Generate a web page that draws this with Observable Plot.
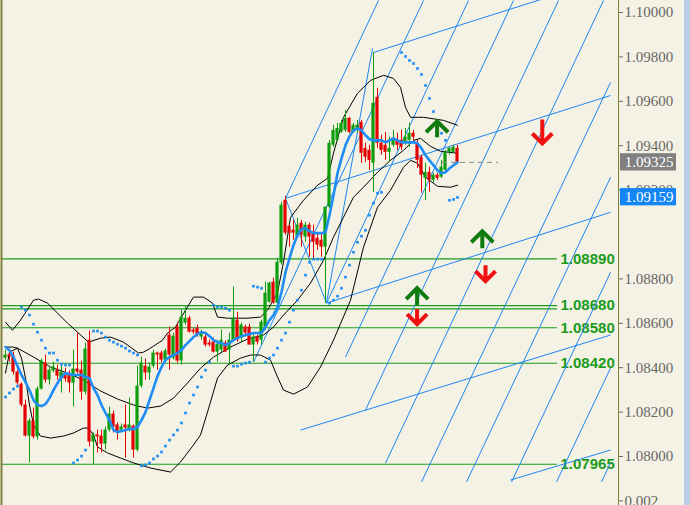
<!DOCTYPE html>
<html><head><meta charset="utf-8">
<script src="https://cdn.jsdelivr.net/npm/d3@7"></script>
<script src="https://cdn.jsdelivr.net/npm/@observablehq/plot@0.6"></script>
<style>
html,body{margin:0;padding:0;background:#f4f2e4;}
#wrap{position:relative;width:690px;height:505px;overflow:hidden;}
#strip{position:absolute;right:0;top:0;width:6px;height:505px;background:#bccde6;}
</style></head><body><div id="wrap"><div id="strip"></div></div>
<script>
// ---- candles (bar index 0..113) ----
const opens = [1.08443,1.08457,1.08452,1.08380,1.08326,1.08232,1.08092,1.08160,1.08088,1.08304,
1.08421,1.08344,1.08385,1.08389,1.08353,1.08376,1.08367,1.08331,1.08394,1.08389,
1.08290,1.08524,1.08065,1.08097,1.08092,1.08056,1.08119,1.08191,1.08142,1.08119,
1.08142,1.08119,1.08137,1.08029,1.08317,1.08407,1.08376,1.08407,1.08466,1.08466,
1.08434,1.08547,1.08443,1.08583,1.08430,1.08601,1.08623,1.08569,1.08578,1.08538,
1.08538,1.08511,1.08515,1.08470,1.08479,1.08511,1.08479,1.08524,1.08614,1.08533,
1.08583,1.08583,1.08502,1.08538,1.08524,1.08583,1.08695,1.08785,1.08691,1.08871,
1.09154,1.09037,1.09019,1.08988,1.09051,1.08988,1.09042,1.09010,1.08983,1.08974,
1.08943,1.09123,1.09402,1.09424,1.09460,1.09469,1.09523,1.09460,1.09469,1.09505,
1.09388,1.09379,1.09321,1.09618,1.09411,1.09402,1.09370,1.09402,1.09424,1.09424,
1.09411,1.09424,1.09456,1.09411,1.09348,1.09253,1.09280,1.09244,1.09267,1.09258,
1.09289,1.09370,1.09370,1.09388];
const highs = [1.08479,1.08466,1.08470,1.08389,1.08331,1.08254,1.08169,1.08218,1.08313,1.08439,
1.08457,1.08407,1.08425,1.08412,1.08412,1.08398,1.08385,1.08479,1.08556,1.08430,
1.08511,1.08565,1.08106,1.08119,1.08119,1.08133,1.08223,1.08205,1.08151,1.08146,
1.08232,1.08263,1.08142,1.08407,1.08448,1.08439,1.08421,1.08479,1.08470,1.08475,
1.08484,1.08583,1.08556,1.08601,1.08659,1.08673,1.08632,1.08578,1.08592,1.08569,
1.08556,1.08524,1.08533,1.08524,1.08569,1.08520,1.08556,1.08763,1.08650,1.08601,
1.08592,1.08596,1.08547,1.08547,1.08614,1.08785,1.08785,1.08803,1.08893,1.09145,
1.09172,1.09042,1.09064,1.09073,1.09064,1.09055,1.09051,1.09042,1.09006,1.09006,
1.09123,1.09424,1.09492,1.09501,1.09514,1.09559,1.09528,1.09501,1.09514,1.09514,
1.09411,1.09402,1.09820,1.09658,1.09447,1.09460,1.09438,1.09469,1.09456,1.09469,
1.09478,1.09501,1.09469,1.09424,1.09357,1.09321,1.09303,1.09276,1.09276,1.09334,
1.09379,1.09393,1.09402,1.09402];
const lows = [1.08434,1.08425,1.08367,1.08322,1.08223,1.08088,1.07971,1.08079,1.08074,1.08299,
1.08331,1.08322,1.08376,1.08344,1.08286,1.08335,1.08286,1.08223,1.08371,1.08254,
1.08277,1.08043,1.07962,1.08016,1.08016,1.08029,1.08110,1.08106,1.08074,1.08106,
1.07993,1.08110,1.07993,1.08020,1.08308,1.08344,1.08344,1.08398,1.08389,1.08421,
1.08425,1.08389,1.08434,1.08421,1.08412,1.08592,1.08556,1.08551,1.08538,1.08524,
1.08493,1.08493,1.08466,1.08425,1.08470,1.08470,1.08412,1.08515,1.08515,1.08515,
1.08538,1.08502,1.08425,1.08502,1.08502,1.08569,1.08691,1.08686,1.08682,1.08862,
1.08997,1.08943,1.08974,1.08983,1.08943,1.08965,1.08898,1.08884,1.08929,1.08898,
1.08691,1.09118,1.09393,1.09420,1.09456,1.09460,1.09456,1.09456,1.09456,1.09321,
1.09325,1.09289,1.09190,1.09388,1.09357,1.09334,1.09325,1.09393,1.09379,1.09379,
1.09402,1.09393,1.09424,1.09298,1.09186,1.09154,1.09190,1.09231,1.09244,1.09253,
1.09280,1.09357,1.09366,1.09321];
const closes = [1.08457,1.08448,1.08380,1.08331,1.08232,1.08092,1.08160,1.08088,1.08304,1.08430,
1.08344,1.08389,1.08403,1.08362,1.08380,1.08349,1.08331,1.08394,1.08380,1.08290,
1.08484,1.08065,1.08097,1.08088,1.08056,1.08119,1.08191,1.08133,1.08110,1.08133,
1.08128,1.08142,1.08029,1.08317,1.08421,1.08376,1.08403,1.08466,1.08457,1.08434,
1.08475,1.08457,1.08542,1.08430,1.08628,1.08623,1.08560,1.08560,1.08551,1.08560,
1.08502,1.08502,1.08470,1.08506,1.08524,1.08470,1.08524,1.08623,1.08524,1.08592,
1.08556,1.08502,1.08538,1.08515,1.08605,1.08736,1.08781,1.08691,1.08875,1.09132,
1.09006,1.09006,1.09006,1.09042,1.08997,1.09042,1.08988,1.08965,1.08952,1.08943,
1.09123,1.09411,1.09469,1.09478,1.09501,1.09523,1.09460,1.09492,1.09492,1.09366,
1.09348,1.09334,1.09591,1.09411,1.09379,1.09370,1.09388,1.09433,1.09402,1.09393,
1.09438,1.09456,1.09438,1.09334,1.09267,1.09280,1.09244,1.09267,1.09253,1.09303,
1.09370,1.09388,1.09393,1.09325];

// ---- moving average (thick blue) ----
const maValues = [1.08493,1.08479,1.08448,1.08407,1.08367,1.08335,1.08299,1.08254,1.08232,1.08227,
1.08236,1.08263,1.08299,1.08331,1.08358,1.08376,1.08371,1.08367,1.08367,1.08367,
1.08358,1.08353,1.08308,1.08277,1.08232,1.08196,1.08164,1.08119,1.08110,1.08115,
1.08119,1.08124,1.08124,1.08133,1.08164,1.08200,1.08254,1.08308,1.08362,1.08403,
1.08434,1.08448,1.08457,1.08466,1.08479,1.08502,1.08520,1.08538,1.08551,1.08560,
1.08556,1.08542,1.08524,1.08515,1.08511,1.08502,1.08511,1.08524,1.08533,1.08542,
1.08547,1.08551,1.08556,1.08556,1.08556,1.08583,1.08614,1.08637,1.08673,1.08740,
1.08830,1.08893,1.08952,1.08997,1.09024,1.09028,1.09015,1.09006,1.09006,1.09006,
1.09010,1.09087,1.09177,1.09276,1.09343,1.09402,1.09442,1.09469,1.09478,1.09469,
1.09447,1.09429,1.09424,1.09424,1.09424,1.09415,1.09424,1.09433,1.09424,1.09415,
1.09415,1.09415,1.09415,1.09411,1.09388,1.09357,1.09334,1.09312,1.09289,1.09276,
1.09280,1.09298,1.09312,1.09325];

// ---- Bollinger-style bands (knots: bar index, price) ----
const bandUpperIdx = [0,1.75,3.75,7,8.25,10.5,13,15.5,18,20.75,23.75,26.25,29.5,33.25,34.5,36.25,39.25,40.5,42.5,45,47,49.5,51.75,53,55.5,60.5,63.75,65.5,68,69.5,71.25,74.5,78,80.5,82,84.5,88,91.25,94.5,97,98.75,100,101.25,104.5,109.5,113];
const bandUpperVal = [1.08605,1.08569,1.08614,1.08704,1.08709,1.08691,1.08646,1.08601,1.08560,1.08515,1.08533,1.08538,1.08515,1.08466,1.08470,1.08488,1.08524,1.08556,1.08583,1.08659,1.08718,1.08718,1.08691,1.08628,1.08623,1.08623,1.08628,1.08659,1.08738,1.08875,1.09077,1.09154,1.09222,1.09253,1.09366,1.09528,1.09636,1.09694,1.09717,1.09703,1.09663,1.09572,1.09528,1.09528,1.09514,1.09492];
const bandMidIdx = [0,1,3,7,11.25,15.5,19.5,23.75,28,32,35.5,38.75,42,45.5,48.75,52,56.25,60.5,64.5,67,69.5,73,76.25,79.5,82,84.5,87,89.5,93,96.25,99.5,102,103.75,106.25,108.75,113];
const bandMidVal = [1.08376,1.08470,1.08488,1.08448,1.08403,1.08376,1.08344,1.08295,1.08259,1.08232,1.08218,1.08227,1.08263,1.08331,1.08398,1.08448,1.08493,1.08529,1.08547,1.08583,1.08637,1.08704,1.08781,1.08884,1.08988,1.09078,1.09168,1.09213,1.09280,1.09334,1.09379,1.09424,1.09433,1.09397,1.09375,1.09366];
const bandLowIdx = [0,1.75,3,4,5,6,7,8.75,11.25,14.5,17,19.5,20.75,22,23,25.5,28.75,32,36.25,41.25,43.75,47,48.75,50.5,53,55.5,58.75,61.25,63.75,66.25,68,69.5,72,75.5,78.75,82,86.25,89.5,93,96.25,99.5,101.25,103,105,108,111.25,113];
const bandLowVal = [1.08493,1.08493,1.08488,1.08443,1.08353,1.08232,1.08142,1.08092,1.08083,1.08092,1.08106,1.08128,1.08128,1.08097,1.08043,1.08016,1.07993,1.07971,1.07948,1.07930,1.07975,1.08052,1.08097,1.08200,1.08353,1.08412,1.08443,1.08457,1.08457,1.08434,1.08358,1.08299,1.08281,1.08313,1.08403,1.08524,1.08704,1.08943,1.09123,1.09199,1.09303,1.09334,1.09321,1.09258,1.09217,1.09213,1.09222];

// ---- parabolic SAR dots ----
const sarIndex = [0,1,2,3,4,5,6,7,8,9,10,11,12,13,14,15,16,17,18,19,20,
22,23,24,25,26,27,28,29,30,31,32,33,
34,35,36,37,38,39,40,41,42,43,44,45,46,47,48,49,50,51,
52,53,54,55,56,57,58,59,60,61,62,63,64,
65,66,67,68,69,70,71,72,73,74,75,76,77,78,79,
81,82,83,84,85,86,87,88,89,90,91,92,93,94,
99,100,101,102,103,104,105,106,107,108,109,110,111,112,113];
const sarValue = [1.08268,1.08286,1.08304,1.08317,1.08673,1.08659,1.08637,1.08596,1.08560,1.08524,1.08488,1.08466,1.08466,1.08434,1.08416,1.08412,1.08412,1.07971,1.07984,1.08002,1.08029,
1.08565,1.08565,1.08556,1.08538,1.08524,1.08515,1.08506,1.08497,1.08488,1.08475,1.08466,1.08457,
1.07958,1.07962,1.07971,1.07989,1.08002,1.08020,1.08047,1.08074,1.08097,1.08119,1.08151,1.08196,1.08241,1.08277,1.08313,1.08358,1.08389,1.08425,
1.08682,1.08673,1.08673,1.08668,1.08659,1.08407,1.08407,1.08416,1.08421,1.08425,1.08767,1.08763,1.08758,
1.08425,1.08443,1.08457,1.08488,1.08524,1.08556,1.08605,1.08659,1.08704,1.08749,1.08817,1.08875,1.08889,1.08889,1.08889,
1.08691,1.08704,1.08722,1.08758,1.08808,1.08862,1.08920,1.08965,1.08992,1.09019,1.09087,1.09141,1.09186,1.09190,
1.09820,1.09802,1.09784,1.09770,1.09748,1.09721,1.09671,1.09613,1.09554,1.09496,1.09456,1.09424,1.09154,1.09158,1.09167];

// ---- drawn objects: fork / channel lines (bar index, price) ----
const gridX1 = [70,62,80.25,85,90,95,104,115.25,126.5,137.75,149, 92,70,80.25,73.75,126.25, 70,80.25];
const gridP1 = [1.09163,1.08425,1.08691,1.08448,1.08209,1.07970,1.07885,1.07885,1.07885,1.07885,1.07885, 1.09820,1.09163,1.08691,1.08119,1.07894, 1.09163,1.08691];
const gridX2 = [93.25,104.5,115.75,127,138.25,149.5,151.25,151.25,151.25,151.25,151.25, 151.25,151.25,151.25,151.25,151.25, 80.25,91.75];
const gridP2 = [1.10054,1.10054,1.10054,1.10054,1.10054,1.10054,1.09685,1.09257,1.08830,1.08398,1.07971, 1.10158,1.09626,1.09100,1.08547,1.08029, 1.08691,1.09838];

// ---- horizontal levels ----
const levelPrices = [1.0889, 1.0868, 1.08665, 1.0858, 1.0842, 1.07965];
const levelLabelPrices = [1.0889, 1.0868, 1.0858, 1.0842, 1.07965];
const levelLabels = ["1.08890", "1.08680", "1.08580", "1.08420", "1.07965"];
const levelEnd = 138;

// ---- arrows ----
const arrowIdx = [107.9, 134.2, 119.2, 120, 102.9, 102.9];
const arrowPrice = [1.09438, 1.09518, 1.08938, 1.08862, 1.08682, 1.08664];
const arrowDir = ["up", "down", "up", "down", "up", "down"];
const arrowLen = [16, 24, 17, 16, 17, 15];

// ---- axis ----
const tickValues = [1.078, 1.080, 1.082, 1.084, 1.086, 1.088, 1.092, 1.094, 1.096, 1.098, 1.100];
const tickLabels = ["0.002", "1.08000", "1.08200", "1.08400", "1.08600", "1.08800", "1.09200", "1.09400", "1.09600", "1.09800", "1.10000"];
const lastPrice = 1.09325, lastLabel = "1.09325";
const sarPrice = 1.09159, sarLabel = "1.09159";
const lastFrom = 109.25, lastTo = 123.25;

// ---- build tables ----
const candles = opens.map((o, i) => {
  const c = closes[i];
  const up = c >= o;
  return {i, o, c, h: Math.max(highs[i], o, c), l: Math.min(lows[i], o, c), up,
    b2: Math.abs(c - o) < 0.00003 ? o + (up ? 0.00003 : -0.00003) : c};
});
const ma = maValues.map((v, i) => ({i, v}));
const toPts = (xs, vs) => xs.map((x, k) => ({x, v: vs[k]}));
const upper = toPts(bandUpperIdx, bandUpperVal);
const mid = toPts(bandMidIdx, bandMidVal);
const low = toPts(bandLowIdx, bandLowVal);
const sar = toPts(sarIndex, sarValue);
const grid = gridX1.map((x, k) => ({x1: x, y1: gridP1[k], x2: gridX2[k], y2: gridP2[k]}));
const arrows = arrowIdx.map((x, k) => ({x, p: arrowPrice[k], dir: arrowDir[k], len: arrowLen[k]}));
const labelOf = new Map(tickValues.map((v, k) => [v, tickLabels[k]]));

const GREEN = "#0c9c0c", RED = "#e40000", BLUE = "#1c86f2", LEVEL = "#1b9b1b";
const arrowShape = {
  draw(context, l, r) {
    context.moveTo(0, 0); context.lineTo(0, -l);
    context.moveTo(-r, -l + r); context.lineTo(0, -l); context.lineTo(r, -l + r);
  }
};
const arrowMarks = arrows.map(d => Plot.vector([d], {
  x: "x", y: "p", length: d.len, rotate: d.dir === "up" ? 0 : 180, anchor: "start",
  shape: arrowShape, r: d.dir === "up" ? 11 : 10,
  stroke: d.dir === "up" ? "#107c10" : "#f01010", strokeWidth: 4,
  strokeLinejoin: "miter", strokeLinecap: "butt"
}));

const chart = Plot.plot({
  width: 690, height: 505,
  marginLeft: 2, marginRight: 72, marginTop: 0, marginBottom: 23,
  x: {domain: [-0.75, 153.25], axis: null},
  y: {domain: [1.0788288, 1.1005405]},
  style: {background: "#f4f2e4", fontFamily: "'Liberation Serif', serif"},
  marks: [
    Plot.ruleY(levelPrices, {y: d => d, x1: -0.75, x2: levelEnd, stroke: LEVEL, strokeWidth: 1.2, clip: true}),
    Plot.text(levelLabels, {x: levelEnd + 0.75, y: (d, k) => levelLabelPrices[k], text: d => d, textAnchor: "start",
      fill: LEVEL, fontWeight: "bold", fontSize: 15, fontFamily: "'Liberation Sans', Arial, sans-serif"}),
    Plot.link(grid, {x1: "x1", y1: "y1", x2: "x2", y2: "y2", stroke: BLUE, strokeWidth: 1, clip: true}),
    Plot.line(upper, {x: "x", y: "v", stroke: "#000", strokeWidth: 1, clip: true}),
    Plot.line(mid, {x: "x", y: "v", stroke: "#000", strokeWidth: 1, clip: true}),
    Plot.line(low, {x: "x", y: "v", stroke: "#000", strokeWidth: 1, clip: true}),
    Plot.ruleX(candles, {x: "i", y1: "l", y2: "h", stroke: d => d.up ? GREEN : RED, strokeWidth: 1, clip: true}),
    Plot.rect(candles, {x1: d => d.i - 0.4, x2: d => d.i + 0.4, y1: "o", y2: "b2", fill: d => d.up ? GREEN : RED, clip: true}),
    Plot.line(ma, {x: "i", y: "v", stroke: "#1e8cf5", strokeWidth: 2.6, strokeLinejoin: "round", clip: true}),
    Plot.dot(sar, {x: "x", y: "v", symbol: "square", r: 1.5, fill: "#1e8cf5", stroke: null, clip: true}),
    Plot.ruleY([lastPrice], {x1: lastFrom, x2: lastTo, stroke: "#8a8a8a", strokeWidth: 1, strokeDasharray: "5,4"}),
    ...arrowMarks,
    Plot.ruleX([-1], {y1: 1.0770, y2: 1.1010, stroke: "#7f7f3c", strokeWidth: 2}),
    Plot.ruleX([153.25], {y1: 1.0770, y2: 1.1010, stroke: "#7f7f3c", strokeWidth: 1}),
    Plot.axisY(tickValues, {anchor: "right", tickSize: 4, tickPadding: 2, fontSize: 15, color: "#666666",
      tickFormat: d => labelOf.get(d)}),
    Plot.rect([lastPrice], {x1: 153.75, x2: 167.75, y1: d => d + 0.00039, y2: d => d - 0.00039, fill: "#808080"}),
    Plot.text([lastLabel], {x: 160.9, y: lastPrice, text: d => d, fill: "white", fontSize: 15}),
    Plot.rect([sarPrice], {x1: 153.75, x2: 167.75, y1: d => d + 0.00039, y2: d => d - 0.00039, fill: "#1485f5", dy: -2}),
    Plot.text([sarLabel], {x: 160.9, y: sarPrice, text: d => d, fill: "white", fontSize: 15, dy: -2})
  ]
});
document.getElementById("wrap").prepend(chart);
</script>
</body></html>
